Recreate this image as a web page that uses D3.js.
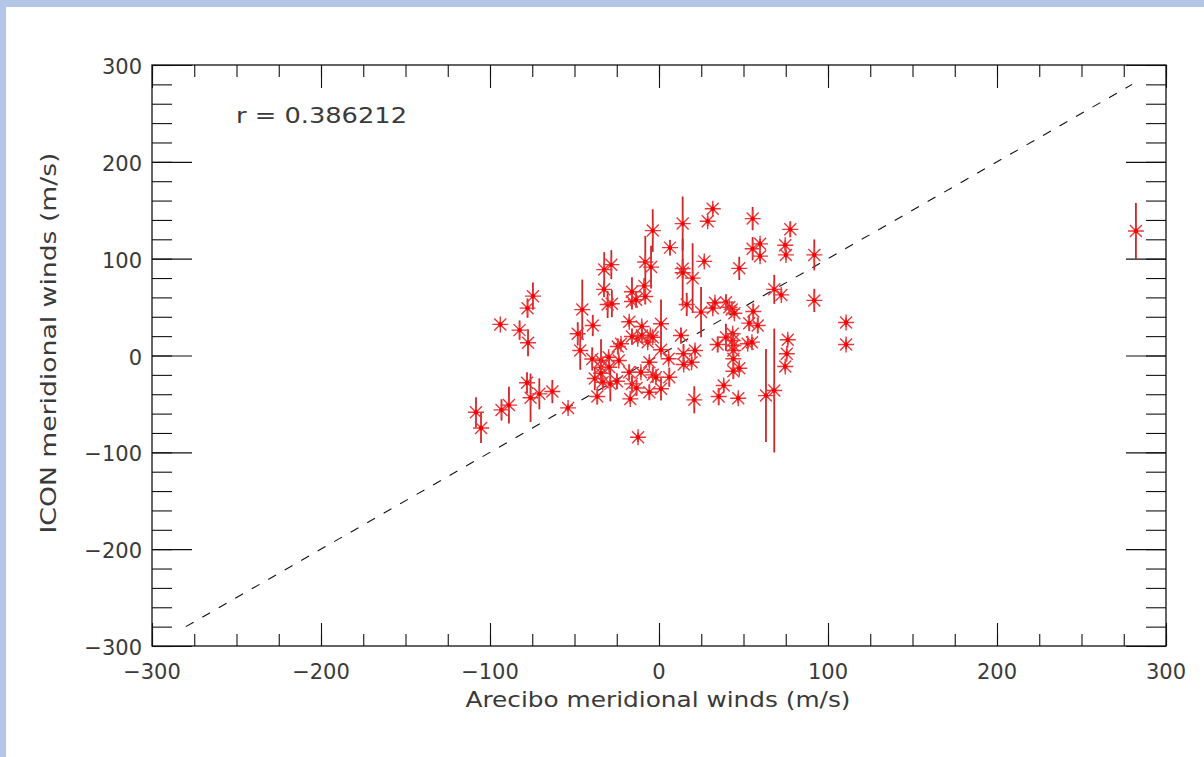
<!DOCTYPE html>
<html>
<head>
<meta charset="utf-8">
<script src="https://cdn.jsdelivr.net/npm/d3@7/dist/d3.min.js"></script>
<style>
  html, body { margin: 0; padding: 0; background: #b4c6e7; }
  #chartDiv { position: absolute; left: 6px; top: 7px; width: 1198px; height: 750px; background: #ffffff; }
  svg text { font-family: "DejaVu Sans", sans-serif; fill: #3a3a3a; }
</style>
</head>
<body>
<div id="chartDiv"></div>
<script>
// Arecibo meridional winds (x), ICON meridional winds (y), ICON error (y)
var arecibo = [-108.3,-105.3,-93.9,-93.2,-88.8,-82.5,-77.8,-74.6,-77.5,-78.1,-76,-70.8,-63.1,-53.8,-48.1,-46.6,-45.4,-39.2,-39.5,-38,
               -36.5,-34.3,-34.3,-34.3,-33.3,-32.4,-28.2,-32.5,-30.4,-27.9,-29.8,-29.4,-28.8,-23.8,-24.9,-24.4,-22.5,-17.6,-16,-16,
               -13.6,-16,-12.6,-10.2,-10.1,-17.6,-16,-13.3,-17,-10.7,-5.7,-3.7,-5.7,-12.4,-8.7,-8.1,-4.7,-3.7,-8.1,-6.7,
               -5.1,-3.7,1.2,1.2,5.7,-1.8,1.2,6.1,6.5,14,14,14,19.9,16.4,24.9,26.8,28.8,31.8,47.5,55.4,
               55.4,59.8,59.8,77.7,74.7,75.1,91.9,91.9,68.2,72.4,110.7,110.7,33.1,31.8,39.6,41.6,43,44.6,55.8,53.4,
               58.4,13,14.5,14.6,19.3,21.3,34.7,39.6,43.6,43.6,44,44,44,44,47.5,52.5,55,76.2,75.6,74.7,
               20.9,35.3,38.3,46.9,63.3,68.2,282.2];
var icon =    [-58.6,-74.8,32.1,-56.2,-51.2,26.2,48.9,61.3,13.1,-28.2,-43.7,-39.6,-37.2,-54.1,22.4,5.2,47.4,31,-3.6,-23.8,
               -42.4,-5.2,-12.1,-18.3,-27.6,88.7,93.8,68.3,52.7,53.5,-1.8,-12.1,-29.3,-5.2,-26.6,9.3,12.1,34.8,65.9,55.8,
               57.6,19.6,17.3,30,20.7,-17.3,-29.3,-33.6,-44.8,-17.3,-6.9,-20,-38,-84.5,71.9,96.5,91.3,129,61,13.8,
               20.7,18.9,32.8,5.9,-3.4,-22.4,-34.4,-22.4,111.4,136.2,89.7,85.5,79.9,52.7,44.8,97.2,138.6,151.5,90,141.4,
               110.3,115.3,102.6,130.3,113.8,103.9,103.9,56.9,68.3,62.6,34.1,11.4,54.5,48.9,55.1,49.9,47.6,43.7,45.5,33.4,
               31,20.7,1.8,-9.3,-6.9,5.2,11.4,18.9,22.4,15.5,10.3,5.2,-3.4,-16.2,-13.1,12.1,13.8,16.2,1.8,-11.4,
               -45.8,-42.4,-31,-44.2,-41.4,-36.2,128.5];
var iconErr = [15.5,15.5,3,11,19,10,10,14,14,11,25,16,12,4,12,20,31,11,12,12,
               8,22,5,5,5,18,15,8,14,14,5,5,18,5,8,8,5,5,15,8,
               8,8,5,5,5,8,8,8,5,5,5,8,8,5,8,27,22,22,8,5,
               5,5,25,5,5,5,12,10,8,28,10,35,36,12,26,5,5,5,12,12,
               12,5,5,8,5,5,16,12,15,5,5,5,5,5,8,5,5,5,8,8,
               8,8,10,5,5,5,8,14,5,5,5,5,5,8,5,5,5,5,5,5,
               14,9,5,5,48,64,29];
var xMajor = [-300,-200,-100,0,100,200,300];
var yMajor = [-300,-200,-100,0,100,200,300];
var oneToOne = [-280,280];
var rText = "r = 0.386212";

var W = 1198, H = 750;
// plot box, in div pixels (page minus the border offset)
var boxL = 146, boxR = 1160, boxT = 58, boxB = 639;

var svg = d3.select("#chartDiv").append("svg")
            .attr("width", W)
            .attr("height", H);

var x = d3.scaleLinear().domain([-300,300]).range([boxL,boxR]);
var y = d3.scaleLinear().domain([-300,300]).range([boxB,boxT]);

function fmt(d){ return d < 0 ? "\u2212" + Math.abs(d) : "" + d; }

//axes, ticks on all four sides
var xMinorTicks = d3.range(-300,301,25);
var yMinorTicks = d3.range(-300,301,20);

svg.append("g").attr("transform","translate(0," + boxB + ")")
   .call(d3.axisTop(x).tickValues(xMinorTicks).tickSize(12).tickFormat(""));
svg.append("g").attr("transform","translate(0," + boxB + ")")
   .call(d3.axisTop(x).tickValues(xMajor).tickSize(23).tickFormat(""));
svg.append("g").attr("transform","translate(0," + boxT + ")")
   .call(d3.axisBottom(x).tickValues(xMinorTicks).tickSize(12).tickFormat(""));
svg.append("g").attr("transform","translate(0," + boxT + ")")
   .call(d3.axisBottom(x).tickValues(xMajor).tickSize(23).tickFormat(""));
svg.append("g").attr("transform","translate(" + boxL + ",0)")
   .call(d3.axisRight(y).tickValues(yMinorTicks).tickSize(20).tickFormat(""));
svg.append("g").attr("transform","translate(" + boxL + ",0)")
   .call(d3.axisRight(y).tickValues(yMajor).tickSize(40).tickFormat(""));
svg.append("g").attr("transform","translate(" + boxR + ",0)")
   .call(d3.axisLeft(y).tickValues(yMinorTicks).tickSize(20).tickFormat(""));
svg.append("g").attr("transform","translate(" + boxR + ",0)")
   .call(d3.axisLeft(y).tickValues(yMajor).tickSize(40).tickFormat(""));

svg.selectAll(".domain").remove();
svg.selectAll(".tick line").attr("stroke","#111").attr("stroke-width",1.1);

svg.append("rect")
   .attr("x", boxL).attr("y", boxT)
   .attr("width", boxR-boxL).attr("height", boxB-boxT)
   .attr("fill","none").attr("stroke","#111").attr("stroke-width",1.3);

//tick labels
svg.append("g").selectAll("text").data(xMajor).enter().append("text")
   .attr("x", function(d){ return x(d); })
   .attr("y", boxB + 33)
   .attr("text-anchor","middle")
   .attr("font-size", 21)
   .text(fmt);
svg.append("g").selectAll("text").data(yMajor).enter().append("text")
   .attr("x", boxL - 10)
   .attr("y", function(d){ return y(d) + 9; })
   .attr("text-anchor","end")
   .attr("font-size", 21)
   .text(fmt);

//axis titles
svg.append("text")
   .attr("x", (boxL+boxR)/2 - 1).attr("y", 700)
   .attr("text-anchor","middle")
   .attr("font-size", 21)
   .attr("textLength", 385).attr("lengthAdjust","spacingAndGlyphs")
   .text("Arecibo meridional winds (m/s)");
svg.append("text")
   .attr("transform","translate(50,336) rotate(-90)")
   .attr("text-anchor","middle")
   .attr("font-size", 21)
   .attr("textLength", 381).attr("lengthAdjust","spacingAndGlyphs")
   .text("ICON meridional winds (m/s)");

svg.append("text")
   .attr("x", 230).attr("y", 116)
   .attr("font-size", 21)
   .attr("textLength", 171).attr("lengthAdjust","spacingAndGlyphs")
   .text(rText);

//1:1 line
svg.append("line")
   .attr("x1", x(oneToOne[0])).attr("y1", y(oneToOne[0]))
   .attr("x2", x(oneToOne[1])).attr("y2", y(oneToOne[1]))
   .attr("stroke","#111").attr("stroke-width",1.1)
   .attr("stroke-dasharray","9,10");

var pts = arecibo.map(function(d,i){ return {x: d, y: icon[i], e: iconErr[i]}; });

//error bars
svg.append("g").selectAll("line").data(pts).enter().append("line")
   .attr("x1", function(d){ return x(d.x); })
   .attr("x2", function(d){ return x(d.x); })
   .attr("y1", function(d){ return y(d.y + d.e); })
   .attr("y2", function(d){ return y(d.y - d.e); })
   .attr("stroke","#c8282a").attr("stroke-width",1.8);

//asterisks
var star = "M-8,0L8,0M0,-8L0,8M-6,-6L6,6M-6,6L6,-6";
var marks = svg.append("g").selectAll("g").data(pts).enter().append("g")
   .attr("transform", function(d){ return "translate(" + x(d.x) + "," + y(d.y) + ")"; });
marks.append("path")
   .attr("d", star)
   .attr("stroke","#e8383a").attr("stroke-width",1.4).attr("fill","none");
marks.append("circle")
   .attr("r", 2.2)
   .attr("fill","#ff0000");

console.log("chart drawn");
</script>
</body>
</html>
